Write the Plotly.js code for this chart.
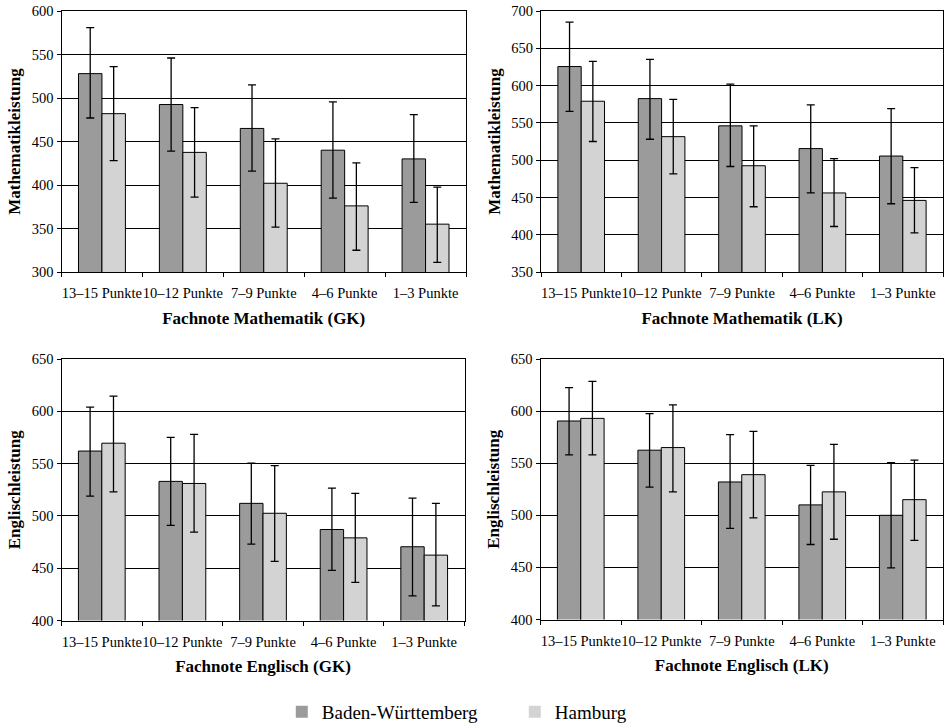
<!DOCTYPE html>
<html><head><meta charset="utf-8">
<script src="https://cdn.plot.ly/plotly-3.0.1.min.js"></script>
<style>html,body{margin:0;padding:0;background:#fff}#chart{width:952px;height:725px}</style>
</head><body><div id="chart"></div>
<script>
const categories = ['13–15 Punkte','10–12 Punkte','7–9 Punkte','4–6 Punkte','1–3 Punkte'];
const seriesNames = ['Baden-Württemberg','Hamburg'];

// Mathematik GK
const mathGK_BW = [528, 492.5, 465, 440, 430];
const mathGK_BW_hi = [581, 546, 515, 495.5, 481];
const mathGK_BW_lo = [477, 439, 416, 385, 380];
const mathGK_HH = [482, 437.5, 402, 376, 355];
const mathGK_HH_hi = [536, 489, 453, 425.5, 397.5];
const mathGK_HH_lo = [428, 386, 351.5, 325, 311];

// Mathematik LK
const mathLK_BW = [625.5, 582.5, 546, 515.5, 505.5];
const mathLK_BW_hi = [685, 635, 602, 574, 569];
const mathLK_BW_lo = [565.5, 528, 491.5, 456, 441.5];
const mathLK_HH = [579, 531.5, 492.5, 456, 446];
const mathLK_HH_hi = [632.5, 581.5, 546, 502, 490];
const mathLK_HH_lo = [525, 481.5, 437.5, 411, 402.5];

// Englisch GK
const engGK_BW = [562, 533, 512, 487, 470.5];
const engGK_BW_hi = [604, 575, 550.5, 526.5, 517];
const engGK_BW_lo = [519, 491, 473, 448, 423.5];
const engGK_HH = [569.5, 531, 502.5, 479, 462.5];
const engGK_HH_hi = [614.5, 578, 548, 521.5, 512];
const engGK_HH_lo = [523, 484.5, 456.5, 436.5, 414];

// Englisch LK
const engLK_BW = [590.5, 562.5, 532, 510, 500];
const engLK_BW_hi = [622.5, 597.5, 577.5, 548, 550.5];
const engLK_BW_lo = [558, 527, 487.5, 472, 449.5];
const engLK_HH = [593, 565, 539, 522.5, 515];
const engLK_HH_hi = [628.5, 606, 580.5, 568, 553];
const engLK_HH_lo = [558, 522.5, 497.5, 477, 476];

const xTitles = ['Fachnote Mathematik (GK)','Fachnote Mathematik (LK)','Fachnote Englisch (GK)','Fachnote Englisch (LK)'];
const yTitles = ['Mathematikleistung','Mathematikleistung','Englischleistung','Englischleistung'];
const yRanges = [[300,600],[350,700],[400,650],[400,650]];

const colors = ['#9b9b9b','#d3d3d3'];
const FONT = 'Liberation Serif, Times New Roman, serif';

function errs(v, hi, lo){
  return {type:'data', symmetric:false,
    array: v.map((x,i)=>hi[i]-x), arrayminus: v.map((x,i)=>x-lo[i]),
    color:'#000', thickness:1.3, width:4};
}

const panels = [
  [mathGK_BW, mathGK_BW_hi, mathGK_BW_lo, mathGK_HH, mathGK_HH_hi, mathGK_HH_lo],
  [mathLK_BW, mathLK_BW_hi, mathLK_BW_lo, mathLK_HH, mathLK_HH_hi, mathLK_HH_lo],
  [engGK_BW, engGK_BW_hi, engGK_BW_lo, engGK_HH, engGK_HH_hi, engGK_HH_lo],
  [engLK_BW, engLK_BW_hi, engLK_BW_lo, engLK_HH, engLK_HH_hi, engLK_HH_lo]
];

const traces = [];
panels.forEach((p, k) => {
  const ax = k === 0 ? '' : String(k+1);
  traces.push({type:'bar', x:categories, y:p[0], name:seriesNames[0], showlegend:false,
    xaxis:'x'+ax, yaxis:'y'+ax, marker:{color:colors[0], line:{color:'#000', width:1}},
    error_y: errs(p[0],p[1],p[2]), hoverinfo:'y'});
  traces.push({type:'bar', x:categories, y:p[3], name:seriesNames[1], showlegend:false,
    xaxis:'x'+ax, yaxis:'y'+ax, marker:{color:colors[1], line:{color:'#000', width:1}},
    error_y: errs(p[3],p[4],p[5]), hoverinfo:'y'});
});
seriesNames.forEach((n,i)=>{
  traces.push({type:'scatter', mode:'markers', x:[null], y:[null], name:n, showlegend:true,
    xaxis:'x', yaxis:'y', marker:{color:colors[i], symbol:'square', size:12, line:{width:0}}});
});

const W = 952, H = 725;
const boxes = [
  {x0:61.5, x1:466, y0:11, y1:272},
  {x0:541, x1:943, y0:11, y1:272},
  {x0:61.5, x1:464.5, y0:359, y1:620.5},
  {x0:540.5, x1:943, y0:359, y1:619.5}
];

const layout = {
  width:W, height:H, margin:{l:0,r:0,t:0,b:0,autoexpand:false},
  paper_bgcolor:'#fff', plot_bgcolor:'#fff',
  font:{family:FONT, color:'#000', size:14.5},
  barmode:'group', bargap:0.42, bargroupgap:0,
  showlegend:true,
  legend:{orientation:'h', x:0.296, xanchor:'left', y:1-712/H, yanchor:'middle',
    font:{family:FONT, size:19, color:'#000'}, entrywidth:188, itemsizing:'constant'}
};

boxes.forEach((b,k)=>{
  const ax = k === 0 ? '' : String(k+1);
  layout['xaxis'+ax] = {
    domain:[b.x0/W, b.x1/W], anchor:'y'+ax, type:'category',
    showline:true, linecolor:'#000', linewidth:1, mirror:true,
    ticks:'outside', tickson:'boundaries', ticklen:4, tickcolor:'#000', tickangle:0,
    ticklabelstandoff:8,
    tickfont:{family:FONT, size:14.5, color:'#000'},
    title:{text:xTitles[k], font:{family:FONT, size:17, color:'#000', weight:'bold'}, standoff:11},
    showgrid:false, fixedrange:true
  };
  layout['yaxis'+ax] = {
    domain:[1-b.y1/H, 1-b.y0/H], anchor:'x'+ax, range:yRanges[k], dtick:50,
    showline:true, linecolor:'#000', linewidth:1, mirror:true,
    ticks:'outside', ticklen:4, tickcolor:'#000',
    showgrid:true, gridcolor:'#000', gridwidth:1, zeroline:false,
    tickfont:{family:FONT, size:14.5, color:'#000'},
    title:{text:yTitles[k], font:{family:FONT, size:17, color:'#000', weight:'bold'}, standoff:6},
    fixedrange:true
  };
});

Plotly.newPlot('chart', traces, layout, {displayModeBar:false, staticPlot:true});
</script></body></html>
